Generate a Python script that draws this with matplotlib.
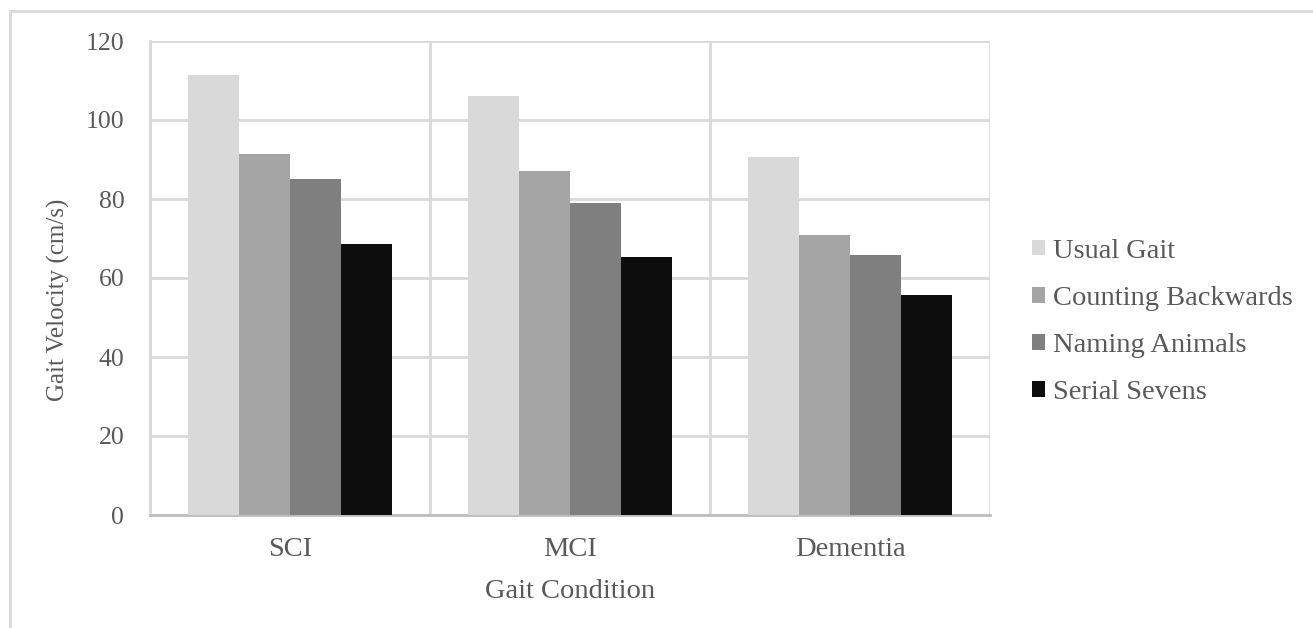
import matplotlib
matplotlib.use("Agg")
import matplotlib.pyplot as plt
import numpy as np
from matplotlib.patches import Rectangle

categories = ["SCI", "MCI", "Dementia"]
series_names = ["Usual Gait", "Counting Backwards", "Naming Animals", "Serial Sevens"]
usual_gait = [111.3, 106.2, 90.7]
counting_backwards = [91.3, 87.0, 70.9]
naming_animals = [85.1, 79.1, 65.8]
serial_sevens = [68.6, 65.2, 55.6]
y_ticks = [0, 20, 40, 60, 80, 100, 120]

series = [usual_gait, counting_backwards, naming_animals, serial_sevens]
colors = ["#d9d9d9", "#a5a5a5", "#7f7f7f", "#0d0d0d"]

plt.rcParams['font.family'] = ['Liberation Serif', 'DejaVu Serif']
txt = "#595959"
grid = "#d9d9d9"

W, H = 1313, 628
fig = plt.figure(figsize=(W/100, H/100), dpi=100)
ax = fig.add_axes([150/W, 1-515/H, 840/W, 474/H])

x = np.arange(len(categories))
bw = 0.182
for i, (vals, c, name) in enumerate(zip(series, colors, series_names)):
    ax.bar(x + (i - 1.5) * bw, vals, width=bw, color=c, label=name, zorder=3)

ax.set_xlim(-0.5, len(categories) - 0.5)
ax.set_ylim(0, 120)
ax.set_yticks(y_ticks)
ax.set_xticks(x)
ax.set_xticklabels(categories)
ax.set_xticks(np.arange(-0.5, len(categories)), minor=True)
ax.grid(axis='y', color=grid, linewidth=2, zorder=0)
ax.grid(axis='x', which='minor', color=grid, linewidth=2, zorder=0)
ax.grid(axis='x', which='major', visible=False)
for s in ["top", "right"]:
    ax.spines[s].set_visible(False)
ax.spines["left"].set_color(grid)
ax.spines["left"].set_linewidth(2)
ax.spines["bottom"].set_color("#bfbfbf")
ax.spines["bottom"].set_linewidth(2)
ax.tick_params(axis='both', which='both', length=0, colors=txt)
ax.tick_params(axis='y', pad=18.5, labelsize=18.5)
ax.tick_params(axis='x', pad=16, labelsize=20.5)

ax.set_ylabel("Gait Velocity (cm/s)", color=txt, fontsize=18)
ax.yaxis.label.set_va('baseline')
ax.yaxis.set_label_coords((65-150)/840, (515-300)/474)
ax.set_xlabel("Gait Condition", color=txt, fontsize=20.5)
ax.xaxis.label.set_va('baseline')
ax.xaxis.set_label_coords(0.5, (515-598)/474)

leg = ax.legend(loc='center left', bbox_to_anchor=(1032/W, 1-322/H),
                bbox_transform=fig.transFigure, frameon=False, fontsize=20.5,
                handlelength=0.46, handleheight=0.46, handletextpad=0.28,
                labelspacing=0.78, borderaxespad=0, borderpad=0)
for t in leg.get_texts():
    t.set_color(txt)

fig.patches.append(Rectangle((10/W, -0.1), 1.2, 1 - 11/H + 0.1,
                             transform=fig.transFigure, fill=False,
                             edgecolor=grid, linewidth=2))

fig.savefig("out.png", dpi=100, facecolor="white")
